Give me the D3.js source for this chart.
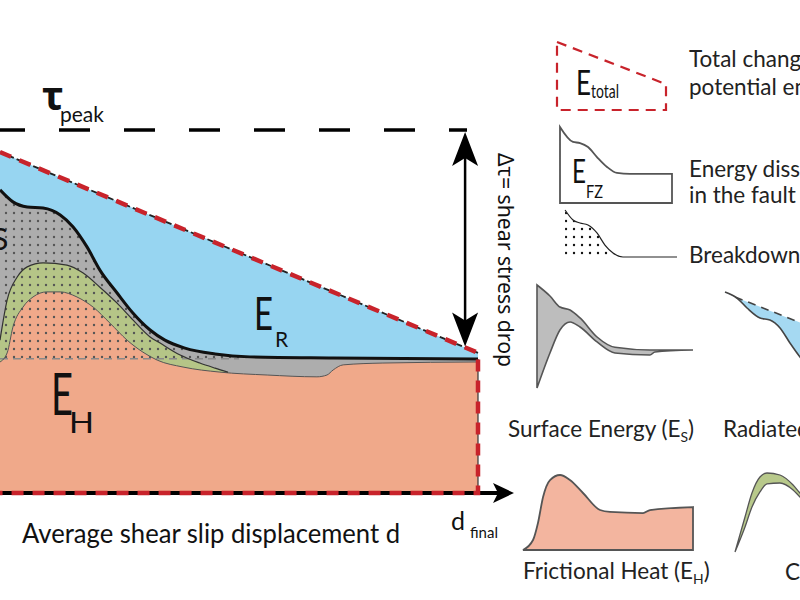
<!DOCTYPE html>
<html lang="en">
<head>
<meta charset="UTF-8" />
<title>Fault energy budget</title>
<style>
  body { margin: 0; background: #fff; }
  svg { display: block; font-family: Lato, "Open Sans", sans-serif; }
</style>
</head>
<body>
<script src="https://d3js.org/d3.v7.min.js"></script>
<script>
// main panel: slip d in % of d_final, shear stress tau in % of tau_peak
const totalLine = [[0, 93.9], [100, 38.6]]
const fzTop = [[0, 83.5], [2.7, 80.2], [5.7, 78.8], [9.0, 78.5], [12.6, 76.6], [15.3, 73.3],
  [18.2, 67.8], [20.9, 61.4], [24.5, 55.1], [27.8, 49.6], [31.4, 44.9], [34.5, 42.1],
  [38.7, 39.9], [45.0, 38.3], [52.3, 37.5], [69.7, 37.2], [100, 36.9]]
const grainTop = [[0, 42.1], [1.5, 53.2], [3.6, 59.5], [5.7, 62.3], [9.0, 63.4], [14.0, 62.8],
  [17.4, 60.6], [20.9, 56.7], [24.5, 52.3], [27.8, 47.7], [31.4, 43.0], [33.5, 41.3],
  [37.7, 38.0], [41.8, 35.8], [45.0, 34.4], [47.7, 33.3]]
const heatTop = [[0, 36.1], [1.5, 38.6], [2.7, 45.7], [4.8, 51.2], [6.9, 54.0], [9.8, 55.4],
  [12.6, 55.4], [16.1, 54.0], [19.5, 51.2], [23.0, 46.8], [26.6, 42.1], [29.9, 38.8],
  [32.9, 36.6], [38.3, 34.7], [46.0, 33.3], [55.9, 32.5], [66.3, 32.0], [68.4, 32.5],
  [69.7, 33.9], [71.8, 35.3], [80.1, 35.8], [100, 36.1]]
const residualTau = 37
const residualEnd = 50
const peakTau = 100
const arrowAt = 97.3

// legend glyphs, each in its own 0-100 box
const totalGlyph = [[0, 100], [100, 38], [100, 0], [0, 0]]
const fzGlyph = [[0, 100], [11.6, 80.3], [17.9, 78.9], [25, 73.7], [33, 60.5], [42, 47.4],
  [50.9, 39.5], [62.5, 38.2], [100, 38.2]]
const breakdownGlyph = [[1.8, 100], [8.8, 78.7], [14.9, 72.3], [21.9, 68.1], [29.8, 51.1],
  [36.8, 25.5], [43.9, 8.5], [52.6, 0], [100, 0]]
const surfX = [0, 8.3, 14.7, 21.2, 27.6, 38.5, 50, 72.4, 75.6, 100]
const surfUpper = [100, 89.3, 78.6, 75.7, 68, 49.5, 39.5, 36.9, 36.9, 36.9]
const surfLower = [0, 34, 56.3, 64.1, 59.2, 44.7, 34, 32, 35, 36.9]
const radLower = [[0, 100], [7.7, 94.4], [14.2, 85.2], [22.6, 75.9], [29, 74.1], [35.5, 66.7],
  [41.9, 52.8], [48.4, 39.8], [58, 25], [70, 15], [100, 10]]
const radUpper = [[0, 100], [6.5, 95.4], [100, 42.6]]
const heatGlyph = [[0, 0], [5.9, 13.3], [8.8, 36], [11.8, 70.7], [15.9, 93.3], [21.8, 100],
  [27.6, 93.3], [35.3, 76], [45.3, 53.3], [51.2, 50.7], [70.6, 49.3], [74.7, 53.3], [100, 57.3]]
const grainX = [0, 6.25, 10.6, 15.6, 20, 28.1, 36.3, 40.6, 50]
const grainOuter = [1.25, 45, 75, 95, 100, 97.5, 85, 75, 60]
const grainInner = [1.25, 32.5, 57.5, 76.3, 86.3, 87.5, 78.8, 70, 53.8]

const legendText = ['Total change in', 'potential energy', 'Energy dissipated', 'in the fault zone', 'Breakdown work']

const width = 800
const height = 600
const red = '#c8232b'

let svg = d3.select('body').append('svg').attr('width', width).attr('height', height)

let defs = svg.append('defs')
function dots(id, color) {
  let p = defs.append('pattern').attr('id', id).attr('patternUnits', 'userSpaceOnUse')
    .attr('width', 8).attr('height', 8).attr('x', 2).attr('y', 1)
  p.append('circle').attr('cx', 4).attr('cy', 4).attr('r', 1.2).attr('fill', color)
}
dots('dotsMain', '#555')
dots('dotsLegend', '#111')

const x = d3.scaleLinear().domain([0, 100]).range([0, 478])
const y = d3.scaleLinear().domain([0, 100]).range([493, 130])
const totalAt = d3.scaleLinear().domain(totalLine.map(d => d[0])).range(totalLine.map(d => d[1]))

const curve = d3.curveMonotoneX
const line = d3.line().x(d => x(d[0])).y(d => y(d[1])).curve(curve)
const fill = d3.area().x(d => x(d[0])).y0(y(0)).y1(d => y(d[1])).curve(curve)

// radiated energy
svg.append('path').attr('fill', '#97d5f1')
  .attr('d', d3.area().x(d => x(d[0])).y0(d => y(d[1])).y1(d => y(totalAt(d[0]))).curve(curve)(fzTop))
// surface energy / comminution / heat
svg.append('path').attr('fill', '#adadad').attr('d', fill(fzTop))
svg.append('path').attr('fill', '#b5c587').attr('d', fill(grainTop))
svg.append('path').attr('fill', '#f0a98a').attr('d', fill(heatTop))

// breakdown work dots above the residual stress
svg.append('path').attr('fill', 'url(#dotsMain)')
  .attr('d', d3.area().x(d => x(d[0])).y0(y(residualTau)).y1(d => y(d[1])).curve(curve)(fzTop.filter(d => d[0] <= 52.3)))
svg.append('line')
  .attr('x1', x(0)).attr('x2', x(residualEnd)).attr('y1', y(residualTau)).attr('y2', y(residualTau))
  .attr('stroke', '#8a8a8a').attr('stroke-width', 1.5).attr('stroke-dasharray', '8,5')

svg.append('path').attr('fill', 'none').attr('stroke', '#555').attr('stroke-width', 1).attr('d', line(heatTop))
svg.append('path').attr('fill', 'none').attr('stroke', '#333').attr('stroke-width', 1.2).attr('d', line(grainTop))
svg.append('path').attr('fill', 'none').attr('stroke', '#111').attr('stroke-width', 3).attr('d', line(fzTop))
svg.append('line').attr('x1', x(100)).attr('x2', x(100)).attr('y1', y(fzTop[fzTop.length - 1][1])).attr('y2', y(0))
  .attr('stroke', '#333').attr('stroke-width', 1.2)

// x axis
svg.append('line').attr('x1', x(0)).attr('x2', x(100) + 22).attr('y1', y(0)).attr('y2', y(0))
  .attr('stroke', '#000').attr('stroke-width', 4)
svg.append('path').attr('fill', '#000')
  .attr('d', `M${x(100) + 36},${y(0)} L${x(100) + 15},${y(0) - 10} L${x(100) + 20},${y(0)} L${x(100) + 15},${y(0) + 10} Z`)

// total potential energy outline
let totalPath = d3.line().x(d => x(d[0])).y(d => y(d[1]))
svg.append('path').attr('fill', 'none').attr('stroke', '#222').attr('stroke-width', 1.8)
  .attr('stroke-dasharray', '6,3').attr('d', totalPath(totalLine))
svg.append('path').attr('fill', 'none').attr('stroke', red).attr('stroke-width', 4.5)
  .attr('stroke-dasharray', '12,9')
  .attr('d', totalPath([...totalLine, [100, 0], [0, 0]]))

// peak stress
svg.append('line').attr('x1', x(0)).attr('x2', x(97.7)).attr('y1', y(peakTau)).attr('y2', y(peakTau))
  .attr('stroke', '#000').attr('stroke-width', 3.5).attr('stroke-dasharray', '31,34').attr('stroke-dashoffset', 6)

// stress drop arrow
let ax = x(arrowAt)
let aTop = y(peakTau) + 2
let aBot = y(totalAt(arrowAt)) - 1
svg.append('line').attr('x1', ax).attr('x2', ax).attr('y1', aTop + 10).attr('y2', aBot - 10)
  .attr('stroke', '#000').attr('stroke-width', 2.5)
svg.append('path').attr('fill', '#000')
  .attr('d', `M${ax},${aTop} L${ax + 13},${aTop + 34} L${ax},${aTop + 26} L${ax - 13},${aTop + 34} Z`)
svg.append('path').attr('fill', '#000')
  .attr('d', `M${ax},${aBot} L${ax + 13},${aBot - 34} L${ax},${aBot - 26} L${ax - 13},${aBot - 34} Z`)

// labels in the main panel
function label(xp, yp, txt, size, opts = {}) {
  let t = svg.append('text').attr('x', xp).attr('y', yp).attr('font-size', size).attr('fill', '#111').text(txt)
  if (opts.len) t.attr('textLength', opts.len).attr('lengthAdjust', 'spacingAndGlyphs')
  if (opts.family) t.attr('font-family', opts.family)
  if (opts.weight) t.attr('font-weight', opts.weight)
  return t
}
label(42, 110, 'τ', 40, { family: '"Noto Sans", "DejaVu Sans"', weight: 'bold' })
label(60, 122, 'peak', 21)
label(254, 330, 'E', 46, { len: 19 })
label(275, 347, 'R', 21)
label(-44, 240, 'E', 46, { len: 19 })
label(-8, 250, 'S', 30)
label(51, 415, 'E', 58, { len: 22 })
label(69, 433, 'H', 28, { len: 25 })
label(451, 530, 'd', 25)
label(470, 538, 'final', 15)
label(22, 543, 'Average shear slip displacement d', 27, { len: 378 })
svg.append('text').attr('transform', 'translate(498,153) rotate(90)')
  .attr('font-size', 21).attr('fill', '#111')
  .attr('font-family', '"Noto Sans", Lato, sans-serif')
  .attr('textLength', 214).attr('lengthAdjust', 'spacingAndGlyphs')
  .text('Δτ= shear stress drop')

// legend
function box(x0, x1, top, bottom) {
  return [d3.scaleLinear().domain([0, 100]).range([x0, x1]), d3.scaleLinear().domain([0, 100]).range([bottom, top])]
}

let [gx, gy] = box(557, 666, 42, 110)
svg.append('path').attr('fill', 'none').attr('stroke', red).attr('stroke-width', 2.2).attr('stroke-dasharray', '10,7')
  .attr('d', d3.line().x(d => gx(d[0])).y(d => gy(d[1])).curve(d3.curveLinearClosed)(totalGlyph))
label(576, 95, 'E', 35, { len: 15 })
label(591, 98, 'total', 20, { len: 28 })

;[gx, gy] = box(560, 672, 127, 203)
svg.append('path').attr('fill', '#fff').attr('stroke', '#555').attr('stroke-width', 1.8)
  .attr('d', d3.area().x(d => gx(d[0])).y0(gy(0)).y1(d => gy(d[1])).curve(curve)(fzGlyph))
label(572, 183, 'E', 32, { len: 14 })
label(586, 198, 'FZ', 18, { len: 17 })

;[gx, gy] = box(563, 677, 210, 257)
svg.append('path').attr('fill', 'url(#dotsLegend)')
  .attr('d', d3.area().x(d => gx(d[0])).y0(gy(0)).y1(d => gy(d[1])).curve(curve)(breakdownGlyph))
svg.append('path').attr('fill', 'none').attr('stroke', '#222').attr('stroke-width', 1.2)
  .attr('d', d3.line().x(d => gx(d[0])).y(d => gy(d[1])).curve(curve)(breakdownGlyph))

const legendY = [67, 95, 177, 203, 263]
legendText.forEach((t, i) => label(689, legendY[i], t, 22.5).attr('fill', '#222'))

;[gx, gy] = box(537, 693, 285, 388)
svg.append('path').attr('fill', '#bdbdbd').attr('stroke', '#555').attr('stroke-width', 1.6)
  .attr('d', d3.area().x((d, i) => gx(surfX[i])).y0((d, i) => gy(surfLower[i])).y1((d, i) => gy(surfUpper[i])).curve(curve)(surfX))

;[gx, gy] = box(725, 880, 292, 400)
const radUp = d3.scaleLinear().domain(radUpper.map(d => d[0])).range(radUpper.map(d => d[1]))
svg.append('path').attr('fill', '#a5d9f2')
  .attr('d', d3.area().x(d => gx(d[0])).y0(d => gy(d[1])).y1(d => gy(radUp(d[0]))).curve(curve)(radLower))
svg.append('path').attr('fill', 'none').attr('stroke', '#444').attr('stroke-width', 1.6)
  .attr('d', d3.line().x(d => gx(d[0])).y(d => gy(d[1])).curve(curve)(radLower))
svg.append('path').attr('fill', 'none').attr('stroke', '#444').attr('stroke-width', 1.6).attr('stroke-dasharray', '8,6')
  .attr('d', d3.line().x(d => gx(d[0])).y(d => gy(d[1]))(radUpper.slice(1)))

;[gx, gy] = box(523, 693, 475, 550)
svg.append('path').attr('fill', '#f3b59f').attr('stroke', '#555').attr('stroke-width', 1.8)
  .attr('d', d3.area().x(d => gx(d[0])).y0(gy(0)).y1(d => gy(d[1])).curve(curve)(heatGlyph))

;[gx, gy] = box(735, 895, 473, 553)
svg.append('path').attr('fill', '#b8c98b').attr('stroke', '#555').attr('stroke-width', 1.3)
  .attr('d', d3.area().x((d, i) => gx(grainX[i])).y0((d, i) => gy(grainInner[i])).y1((d, i) => gy(grainOuter[i])).curve(curve)(grainX))

function subLabel(xp, yp, pre, sub, post, size) {
  let t = svg.append('text').attr('x', xp).attr('y', yp).attr('font-size', size).attr('fill', '#222')
  t.append('tspan').text(pre)
  t.append('tspan').attr('font-size', size * 0.62).attr('dy', 5).text(sub)
  t.append('tspan').attr('dy', -5).text(post)
}
subLabel(508, 437, 'Surface Energy (E', 'S', ')', 22.5)
subLabel(723, 437, 'Radiated energy (E', 'R', ')', 22.5)
subLabel(523, 579, 'Frictional Heat (E', 'H', ')', 22.5)
label(785, 580, 'Comminution energy', 22.5).attr('fill', '#222')
</script>
</body>
</html>
